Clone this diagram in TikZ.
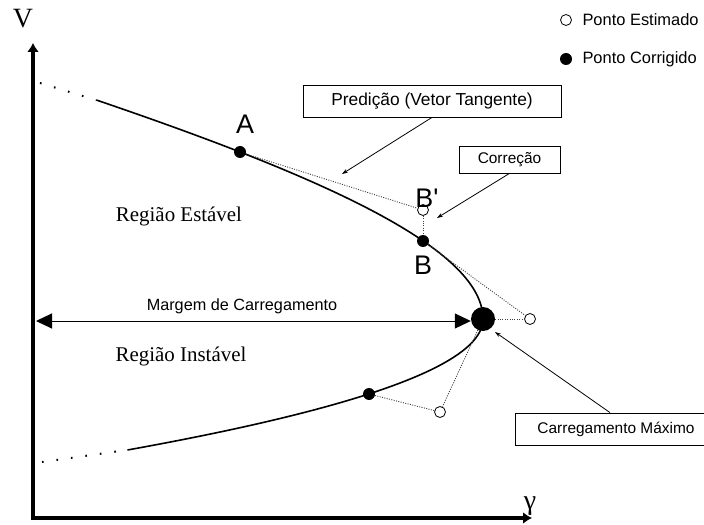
\documentclass[tikz,border=0pt]{standalone}
\usepackage{fontspec}
\setmainfont{Liberation Serif}
\newfontfamily\arialfont{Liberation Sans}
\usetikzlibrary{arrows.meta}

\tikzset{
  lbl/.style={font=\arialfont\fontsize{15.5}{18}\selectfont},
  big/.style={font=\arialfont\fontsize{27}{30}\selectfont},
  reg/.style={font=\fontsize{21}{24}\selectfont},
  callout/.style={draw,line width=0.8bp,lbl,inner sep=0pt},
  ptcor/.style={circle,fill,inner sep=0pt,minimum size=12bp},
  ptest/.style={circle,draw,line width=0.8bp,inner sep=0pt,minimum size=11bp},
  tang/.style={line width=0.9bp,black!75,dash pattern=on 1bp off 1.4bp},
  ext/.style={line width=2bp,dash pattern=on 1.6bp off 13bp},
  axis/.style={line width=3.5bp,line join=miter,{Latex[length=9bp,width=12bp]}-{Latex[length=9bp,width=12bp]}},
  margem/.style={line width=1bp,{Triangle[length=16bp,width=15bp]}-{Triangle[length=16bp,width=15bp]}},
  seta/.style={line width=0.8bp,-{Stealth[length=6bp,width=4bp]}}
}

\begin{document}
\begin{tikzpicture}[x=1bp,y=-1bp,>=Latex]
  \useasboundingbox (0,0) rectangle (704,525);

  % eixos V x gamma
  \coordinate (Vtop) at (33,43);
  \coordinate (O) at (33,518);
  \coordinate (Gend) at (532,518);
  \draw[axis] (Vtop) -- (O) -- (Gend);
  \node[font=\fontsize{28}{30}\selectfont] (lblV) at (23,19) {V};
  \node[font=\fontsize{28}{30}\selectfont] (lblG) at (530,506) {γ};

  % curva PV: ramo superior e inferior ate o nariz
  \draw[line width=1.6bp] plot[domain=219:0,samples=60]
    ({483-(108-0.125*\x)/100*\x/100*\x},{319-\x})
    -- plot[domain=0:131,samples=50]
    ({483-(198+0.07*\x)/100*\x/100*\x},{319+\x});
  \draw[ext] (40,83) -- (96,100);
  \draw[ext] (42,462) -- (127,450);

  % pontos corrigidos e estimados
  \node[ptcor] (A) at (240,152) {};
  \node[ptcor] (B) at (423,241) {};
  \node[ptest] (Bp) at (423,210) {};
  \node[ptcor,minimum size=24bp] (Pmax) at (483,319) {};
  \node[ptest] (E1) at (530,319) {};
  \node[ptcor] (C1) at (369,394) {};
  \node[ptest] (E2) at (440,412) {};
  \node[big] at (245,124) {A};
  \node[big] at (427,198) {B'};
  \node[big] at (423,265) {B};

  % preditor / corretor
  \draw[tang] (A) -- (Bp);
  \draw[tang] (Bp) -- (B);
  \draw[tang] (B) -- (E1);
  \draw[tang] (Pmax) -- (E1);
  \draw[tang] (Pmax) -- (E2);
  \draw[tang] (C1) -- (E2);

  % regioes e margem
  \node[reg] (est) at (179,216) {Região Estável};
  \node[reg] (inst) at (181,356) {Região Instável};
  \coordinate (mleft) at (36,321);
  \draw[margem] (mleft) -- (mleft -| Pmax.west);
  \node[lbl,font=\arialfont\fontsize{16.3}{19}\selectfont] (marg) at (242,306) {Margem de Carregamento};

  % caixas de legenda com setas
  \node[callout,font=\arialfont\fontsize{17.4}{20}\selectfont,minimum width=258bp,minimum height=32bp] (pred) at (432,101) {Predição (Vetor Tangente)};
  \node[callout,minimum width=101bp,minimum height=27bp] (corr) at (509.5,159.5) {Correção};
  \node[callout,minimum width=202bp,minimum height=32bp] (cmax) at (616,429) {Carregamento Máximo};
  \coordinate (tpred) at (342,174);
  \coordinate (tcorr) at (437,218);
  \coordinate (tmax) at (495,332);
  \draw[seta] (pred.south) -- (tpred);
  \draw[seta] (corr.south) -- (tcorr);
  \draw[seta] ([xshift=-6bp]cmax.north) -- (tmax);

  % legenda
  \node[ptest] (legE) at (566,20) {};
  \node[lbl,font=\arialfont\fontsize{16.5}{19}\selectfont,anchor=west] at (579,20) {Ponto Estimado};
  \node[ptcor] (legC) at (566,59) {};
  \node[lbl,font=\arialfont\fontsize{16.5}{19}\selectfont,anchor=west] at (579,59) {Ponto Corrigido};
\end{tikzpicture}
\end{document}
